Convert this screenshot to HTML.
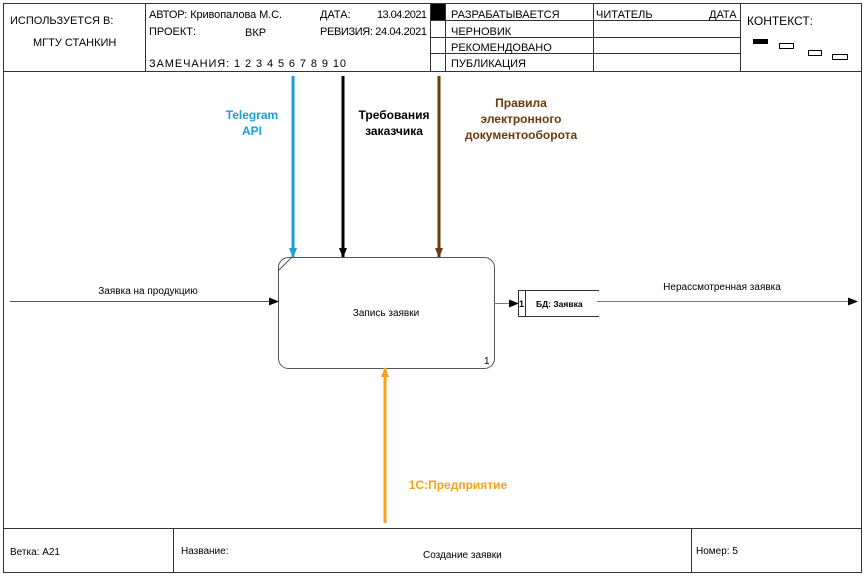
<!DOCTYPE html>
<html><head><meta charset="utf-8"><style>
body{margin:0;background:#fff;width:867px;height:577px;overflow:hidden}
text{font-family:"Liberation Sans",sans-serif}
</style></head><body>
<svg width="867" height="577" xmlns="http://www.w3.org/2000/svg">
<defs>
<marker id="ak" markerWidth="10" markerHeight="8" refX="9" refY="4" orient="auto" markerUnits="userSpaceOnUse"><path d="M0,0 L10,4 L0,8z" fill="#000"/></marker>
<marker id="ab" markerWidth="8" markerHeight="10" refX="4" refY="9" orient="0" markerUnits="userSpaceOnUse"><path d="M0,0 L8,0 L4,10z" fill="#1a9fd6"/></marker>
<marker id="abk" markerWidth="8" markerHeight="10" refX="4" refY="9" orient="0" markerUnits="userSpaceOnUse"><path d="M0,0 L8,0 L4,10z" fill="#000"/></marker>
<marker id="abr" markerWidth="8" markerHeight="10" refX="4" refY="9" orient="0" markerUnits="userSpaceOnUse"><path d="M0,0 L8,0 L4,10z" fill="#6b3a0c"/></marker>
<marker id="ao" markerWidth="8" markerHeight="10" refX="4" refY="1" orient="0" markerUnits="userSpaceOnUse"><path d="M0,10 L8,10 L4,0z" fill="#f7a21b"/></marker>
</defs>
<g stroke="#333" fill="none" stroke-width="1">
<rect x="3.5" y="3.5" width="858" height="569"/>
<line x1="3" y1="71.5" x2="862" y2="71.5"/>
<line x1="145.5" y1="3" x2="145.5" y2="71"/>
<line x1="430.5" y1="3" x2="430.5" y2="71"/>
<line x1="445.5" y1="3" x2="445.5" y2="71"/>
<line x1="593.5" y1="3" x2="593.5" y2="71"/>
<line x1="740.5" y1="3" x2="740.5" y2="71"/>
<line x1="430" y1="20.5" x2="740" y2="20.5"/>
<line x1="430" y1="37.5" x2="740" y2="37.5"/>
<line x1="430" y1="53.5" x2="740" y2="53.5"/>
<line x1="3" y1="528.5" x2="862" y2="528.5"/>
<line x1="173.5" y1="528" x2="173.5" y2="573"/>
<line x1="691.5" y1="528" x2="691.5" y2="573"/>
</g>
<rect x="431" y="4" width="14" height="16" fill="#000"/>
<rect x="753" y="39" width="15" height="5" fill="#000"/>
<g fill="none" stroke="#000" stroke-width="1">
<rect x="779.5" y="43.5" width="14" height="5"/>
<rect x="808.5" y="50.5" width="13" height="5"/>
<rect x="832.5" y="54.5" width="15" height="5"/>
</g>
<g font-size="11" fill="#000">
<text x="10" y="24">ИСПОЛЬЗУЕТСЯ В:</text>
<text x="33" y="46">МГТУ СТАНКИН</text>
<text x="149" y="18" textLength="133">АВТОР: Кривопалова М.С.</text>
<text x="320" y="18">ДАТА:</text>
<text x="377" y="18" textLength="50">13.04.2021</text>
<text x="149" y="35">ПРОЕКТ:</text>
<text x="245" y="36">ВКР</text>
<text x="320" y="35" textLength="107">РЕВИЗИЯ: 24.04.2021</text>
<text x="149" y="67" textLength="197">ЗАМЕЧАНИЯ:  1  2  3  4  5  6  7  8  9  10</text>
<text x="451" y="18">РАЗРАБАТЫВАЕТСЯ</text>
<text x="451" y="35">ЧЕРНОВИК</text>
<text x="451" y="51">РЕКОМЕНДОВАНО</text>
<text x="451" y="67">ПУБЛИКАЦИЯ</text>
<text x="596" y="18">ЧИТАТЕЛЬ</text>
<text x="709" y="18">ДАТА</text>
<text x="747" y="25" font-size="12">КОНТЕКСТ:</text>
<text x="10" y="555" font-size="10">Ветка:  А21</text>
<text x="181" y="554" font-size="10">Название:</text>
<text x="423" y="558" font-size="10">Создание заявки</text>
<text x="696" y="554" font-size="10">Номер: 5</text>
</g>
<rect x="278.5" y="257.5" width="216" height="111" rx="10" fill="#fff" stroke="#555"/>
<line x1="278" y1="271" x2="292" y2="257" stroke="#555"/>
<text x="386" y="316" font-size="10" text-anchor="middle">Запись заявки</text>
<text x="484" y="364" font-size="10">1</text>
<line x1="10" y1="301.5" x2="278" y2="301.5" stroke="#555" marker-end="url(#ak)"/>
<text x="148" y="294" font-size="10" text-anchor="middle">Заявка на продукцию</text>
<line x1="494" y1="303.5" x2="518" y2="303.5" stroke="#777" marker-end="url(#ak)"/>
<rect x="518.5" y="290.5" width="80" height="26" fill="#fff" stroke="#333"/>
<rect x="596" y="291" width="6" height="25" fill="#fff"/>
<line x1="525.5" y1="290" x2="525.5" y2="317" stroke="#333"/>
<text x="519" y="307" font-size="9" font-weight="bold">1</text>
<text x="536" y="307" font-size="8.5" font-weight="bold">БД: Заявка</text>
<line x1="597" y1="301.5" x2="857" y2="301.5" stroke="#777" marker-end="url(#ak)"/>
<text x="722" y="290" font-size="10" text-anchor="middle">Нерассмотренная заявка</text>
<line x1="293" y1="76" x2="293" y2="257" stroke="#1a9fd6" stroke-width="3" marker-end="url(#ab)"/>
<line x1="343" y1="76" x2="343" y2="257" stroke="#000" stroke-width="3" marker-end="url(#abk)"/>
<line x1="439" y1="76" x2="439" y2="257" stroke="#6b3a0c" stroke-width="3" marker-end="url(#abr)"/>
<line x1="385" y1="523" x2="385" y2="368" stroke="#f7a21b" stroke-width="3" marker-end="url(#ao)"/>
<g font-size="12" font-weight="bold" text-anchor="middle">
<text x="252" y="119" fill="#1a9fd6">Telegram</text>
<text x="252" y="135" fill="#1a9fd6">API</text>
<text x="394" y="119" fill="#000">Требования</text>
<text x="394" y="135" fill="#000">заказчика</text>
<text x="521" y="107" fill="#6b3a0c">Правила</text>
<text x="521" y="123" fill="#6b3a0c">электронного</text>
<text x="521" y="139" fill="#6b3a0c">документооборота</text>
<text x="458" y="489" fill="#f7a21b">1С:Предприятие</text>
</g>
</svg>
</body></html>
